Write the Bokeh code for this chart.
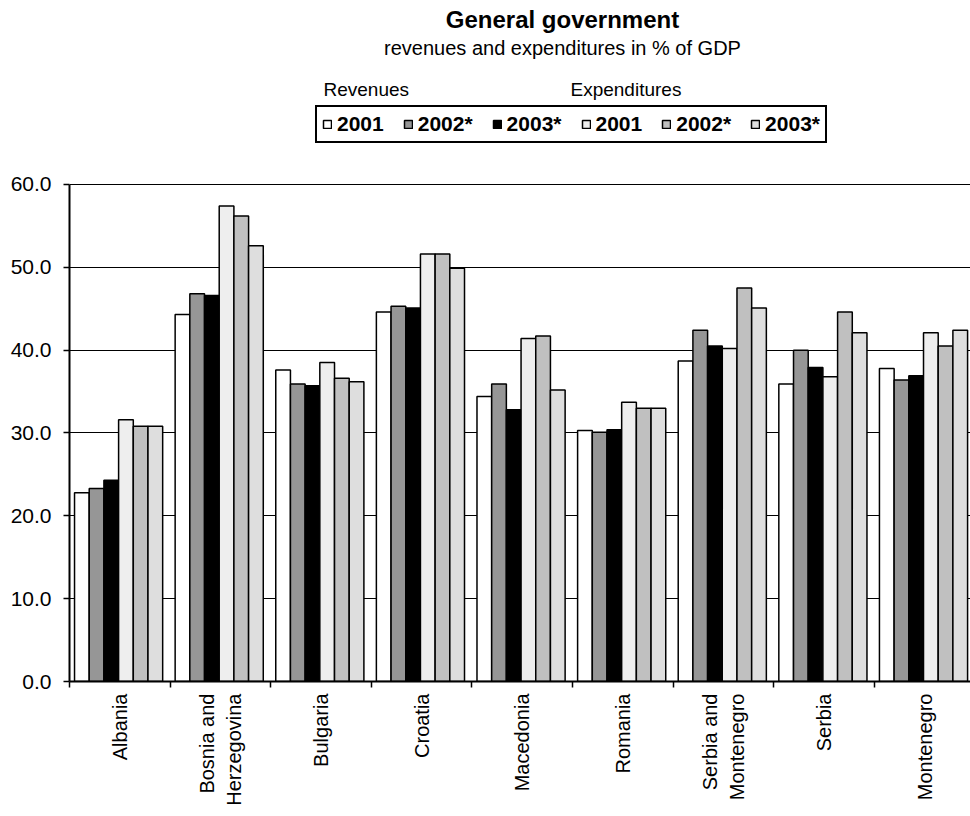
import math
import numpy as np
from bokeh.plotting import figure
from bokeh.models import (ColumnDataSource, Range1d, FixedTicker, Label, Legend,
                          LegendItem, PrintfTickFormatter)
from bokeh.embed import file_html
from bokeh.resources import INLINE

countries = ["Albania", "Bosnia and\nHerzegovina", "Bulgaria", "Croatia", "Macedonia",
             "Romania", "Serbia and\nMontenegro", "Serbia", "Montenegro"]
rev_2001 = [22.8, 44.3, 37.6, 44.6, 34.4, 30.3, 38.7, 35.9, 37.8]
rev_2002 = [23.3, 46.8, 35.9, 45.3, 35.9, 30.1, 42.4, 40.0, 36.4]
rev_2003 = [24.3, 46.6, 35.7, 45.1, 32.8, 30.4, 40.5, 37.9, 36.9]
exp_2001 = [31.6, 57.4, 38.5, 51.6, 41.4, 33.7, 40.2, 36.8, 42.1]
exp_2002 = [30.8, 56.2, 36.6, 51.6, 41.7, 33.0, 47.5, 44.6, 40.5]
exp_2003 = [30.8, 52.6, 36.2, 49.9, 35.2, 33.0, 45.1, 42.1, 42.4]
series_labels = ["2001", "2002*", "2003*", "2001", "2002*", "2003*"]
y_ticks = [0, 10, 20, 30, 40, 50, 60]

series = [rev_2001, rev_2002, rev_2003, exp_2001, exp_2002, exp_2003]
colors = ["#FFFFFF", "#969696", "#000000", "#EEEEEE", "#C0C0C0", "#DEDEDE"]

FONT = "Liberation Sans"

# frame spans from the top of the canvas; the value axis stops at 60
p = figure(width=970, height=812, output_backend="svg", toolbar_location=None,
           x_range=Range1d(0, 8.955), y_range=Range1d(0, 82.21),
           min_border_left=69, min_border_right=0, min_border_top=0,
           min_border_bottom=131)
p.outline_line_color = None
p.background_fill_color = "white"

bw = 0.146
gc = 0.488
renderers = []
for i, (vals, col) in enumerate(zip(series, colors)):
    xs = np.arange(len(vals)) + gc + (i - 2.5) * bw
    src = ColumnDataSource(dict(x=xs, top=vals))
    r = p.vbar(x="x", top="top", bottom=0, width=bw, source=src,
               fill_color=col, line_color="black", line_width=1.5)
    renderers.append(r)

# grid
p.xgrid.visible = False
p.ygrid.ticker = FixedTicker(ticks=y_ticks[1:])
p.ygrid.grid_line_color = "black"
p.ygrid.grid_line_width = 1.2

# y axis
ya = p.yaxis[0]
ya.ticker = FixedTicker(ticks=y_ticks, minor_ticks=[])
ya.bounds = (0, 60)
ya.formatter = PrintfTickFormatter(format="%.1f")
ya.major_tick_out = 6
ya.major_tick_in = 0
ya.minor_tick_out = 0
ya.minor_tick_in = 0
ya.axis_line_width = 2
ya.axis_line_color = "black"
ya.major_tick_line_width = 1.5
ya.major_tick_line_color = "black"
ya.major_label_standoff = 12
ya.major_label_text_font = FONT
ya.major_label_text_font_size = "21px"
ya.major_label_text_color = "black"

# x axis
xa = p.xaxis[0]
centers = [k + 0.5 for k in range(len(countries))]
xa.ticker = FixedTicker(ticks=centers, minor_ticks=list(range(len(countries) + 1)))
xa.major_label_overrides = {c: n for c, n in zip(centers, countries)}
xa.major_tick_out = 0
xa.major_tick_in = 0
xa.minor_tick_out = 6
xa.minor_tick_in = 0
xa.minor_tick_line_width = 1.5
xa.minor_tick_line_color = "black"
xa.axis_line_width = 2
xa.axis_line_color = "black"
xa.major_label_orientation = math.pi / 2
xa.major_label_standoff = 6
xa.major_label_text_font = FONT
xa.major_label_text_font_size = "20px"
xa.major_label_text_color = "black"

# legend
items = [LegendItem(label=lab, renderers=[r]) for lab, r in zip(series_labels, renderers)]
leg = Legend(items=items, orientation="horizontal", location=(246, 538),
             glyph_width=10, glyph_height=10, label_standoff=5, spacing=19,
             padding=5, margin=0, border_line_color="black", border_line_width=2,
             border_line_alpha=1,
             label_text_font=FONT, label_text_font_size="21px",
             label_text_font_style="bold", label_text_color="black", label_height=20,
             background_fill_color="white", background_fill_alpha=1)
p.add_layout(leg, "center")

# titles
p.add_layout(Label(x=493, y=662, x_units="screen", y_units="screen",
                   text="General government", text_align="center",
                   text_baseline="alphabetic", text_font=FONT, text_color="black",
                   text_font_size="24px", text_font_style="bold"))
p.add_layout(Label(x=493, y=634, x_units="screen", y_units="screen",
                   text="revenues and expenditures in % of GDP", text_align="center",
                   text_baseline="alphabetic", text_font=FONT, text_color="black",
                   text_font_size="20px"))
p.add_layout(Label(x=254, y=592, x_units="screen", y_units="screen",
                   text="Revenues", text_align="left",
                   text_baseline="alphabetic", text_font=FONT, text_color="black",
                   text_font_size="19px"))
p.add_layout(Label(x=501, y=592, x_units="screen", y_units="screen",
                   text="Expenditures", text_align="left",
                   text_baseline="alphabetic", text_font=FONT, text_color="black",
                   text_font_size="19px"))

open("out.html", "w").write(file_html(p, INLINE))
